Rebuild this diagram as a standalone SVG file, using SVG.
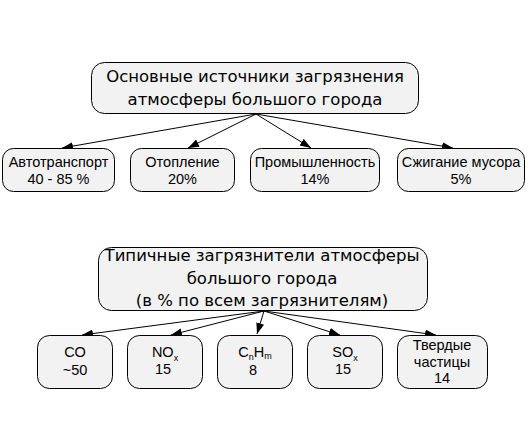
<svg xmlns="http://www.w3.org/2000/svg" width="528" height="439" viewBox="0 0 528 439">
<style>
.box{fill:#f2f2f2;stroke:#000;stroke-width:1}
.title{font-family:"DejaVu Sans",sans-serif;font-size:16.5px;fill:#000;text-anchor:middle}
.lbl{font-family:"Liberation Sans",Arial,sans-serif;font-size:14.5px;fill:#000;text-anchor:middle}
.sub{font-size:9px}
.conn{stroke:#000;stroke-width:1;fill:none;marker-end:url(#ah)}
</style>
<defs>
<marker id="ah" markerWidth="12" markerHeight="10" refX="11" refY="4" orient="auto" markerUnits="userSpaceOnUse">
<path d="M0,0 L11,4 L0,8 Z" fill="#000"/>
</marker>
</defs>
<rect width="528" height="439" fill="#fff"/>
<g id="connectors">
<line class="conn" x1="256" y1="114" x2="62" y2="148"/>
<line class="conn" x1="256" y1="114" x2="188" y2="148"/>
<line class="conn" x1="256" y1="114" x2="311" y2="148"/>
<line class="conn" x1="256" y1="114" x2="453" y2="148"/>
<line class="conn" x1="264" y1="311" x2="82" y2="335"/>
<line class="conn" x1="264" y1="311" x2="171" y2="335"/>
<line class="conn" x1="264" y1="311" x2="257" y2="334"/>
<line class="conn" x1="264" y1="311" x2="340" y2="335"/>
<line class="conn" x1="264" y1="311" x2="436" y2="335"/>
</g>
<g id="src1">
<rect class="box" x="91.5" y="62.5" width="327" height="51" rx="13"/>
<text class="title" x="255" y="82">Основные источники загрязнения</text>
<text class="title" x="255" y="105">атмосферы большого города</text>
</g>
<g id="auto">
<rect class="box" x="2.5" y="148.5" width="112" height="43" rx="11"/>
<text class="lbl" x="58.5" y="167">Автотранспорт</text>
<text class="lbl" x="58.5" y="184">40 - 85 %</text>
</g>
<g id="heat">
<rect class="box" x="130.5" y="148.5" width="104" height="43" rx="11"/>
<text class="lbl" x="182.5" y="167">Отопление</text>
<text class="lbl" x="182.5" y="184">20%</text>
</g>
<g id="industry">
<rect class="box" x="250.5" y="148.5" width="129" height="43" rx="11"/>
<text class="lbl" x="315" y="167">Промышленность</text>
<text class="lbl" x="315" y="184">14%</text>
</g>
<g id="waste">
<rect class="box" x="397.5" y="148.5" width="127" height="43" rx="11"/>
<text class="lbl" x="461" y="167">Сжигание мусора</text>
<text class="lbl" x="461" y="184">5%</text>
</g>
<g id="src2">
<rect class="box" x="98.5" y="247.5" width="329" height="63" rx="13"/>
<text class="title" x="262" y="261">Типичные загрязнители атмосферы</text>
<text class="title" x="262" y="284">большого города</text>
<text class="title" x="262" y="306">(в % по всем загрязнителям)</text>
</g>
<g id="co">
<rect class="box" x="37.5" y="335.5" width="75" height="53" rx="12"/>
<text class="lbl" x="75" y="357">CO</text>
<text class="lbl" x="75" y="375">~50</text>
</g>
<g id="nox">
<rect class="box" x="127.5" y="335.5" width="75" height="53" rx="12"/>
<text class="lbl" x="165" y="357">NO<tspan class="sub" dy="4">x</tspan></text>
<text class="lbl" x="163" y="374">15</text>
</g>
<g id="cnhm">
<rect class="box" x="217.5" y="335.5" width="75" height="53" rx="12"/>
<text class="lbl" x="255" y="357">C<tspan class="sub" dy="3">n</tspan><tspan dy="-3">H</tspan><tspan class="sub" dy="2">m</tspan></text>
<text class="lbl" x="253" y="375">8</text>
</g>
<g id="sox">
<rect class="box" x="307.5" y="335.5" width="75" height="53" rx="12"/>
<text class="lbl" x="345" y="357">SO<tspan class="sub" dy="4">x</tspan></text>
<text class="lbl" x="343" y="374">15</text>
</g>
<g id="particles">
<rect class="box" x="397.5" y="335.5" width="90" height="53" rx="12"/>
<text class="lbl" x="442" y="350">Твердые</text>
<text class="lbl" x="442" y="367">частицы</text>
<text class="lbl" x="442" y="383">14</text>
</g>
</svg>
